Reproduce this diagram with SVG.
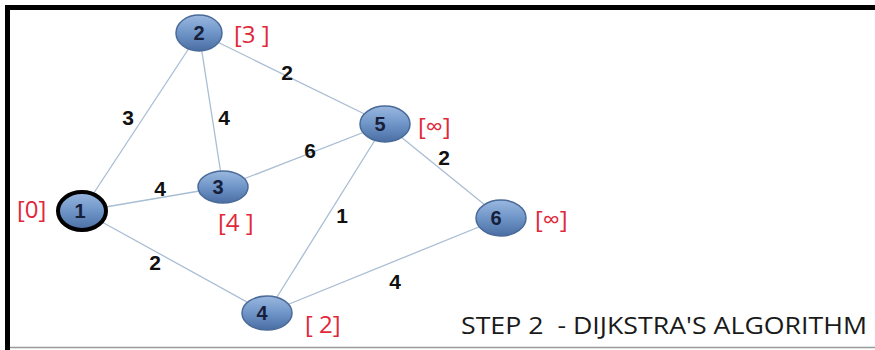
<svg xmlns="http://www.w3.org/2000/svg" width="875" height="350" viewBox="0 0 875 350">
<defs>
<linearGradient id="ng" x1="0" y1="0" x2="0" y2="1">
<stop offset="0" stop-color="#9ab8e0"/>
<stop offset="0.5" stop-color="#6f95c8"/>
<stop offset="1" stop-color="#4a6ea3"/>
</linearGradient>
<style>
.node{fill:url(#ng);stroke:#4a6a98;stroke-width:1.5}
.num{font-family:"Liberation Sans",Arial,sans-serif;font-weight:bold;font-size:20px;fill:#17203a;text-anchor:middle}
.dist{font-family:"Open Sans","Liberation Sans",sans-serif;font-size:24px;fill:#e0283a}
.w{font-family:"Liberation Sans",Arial,sans-serif;font-weight:bold;font-size:21px;fill:#111;text-anchor:middle}
.edge{stroke:#a9bdd3;stroke-width:1.3;fill:none}
.title{font-family:"Open Sans","Liberation Sans",sans-serif;font-size:24px;fill:#1a1a1a}
</style>
</defs>
<rect x="0" y="0" width="875" height="350" fill="#ffffff"/>
<line x1="5" y1="7.5" x2="875" y2="7.5" stroke="#000" stroke-width="5"/>
<line x1="7.5" y1="5" x2="7.5" y2="350" stroke="#000" stroke-width="5"/>
<line x1="10" y1="347.5" x2="875" y2="347.5" stroke="#9a9a9a" stroke-width="1.5"/>
<g id="connectors">
<line class="edge" x1="82" y1="211" x2="199" y2="33"/>
<line class="edge" x1="199" y1="33" x2="223" y2="187"/>
<line class="edge" x1="199" y1="33" x2="385" y2="124"/>
<line class="edge" x1="82" y1="211" x2="223" y2="187"/>
<line class="edge" x1="223" y1="187" x2="385" y2="124"/>
<line class="edge" x1="82" y1="211" x2="267" y2="313"/>
<line class="edge" x1="267" y1="313" x2="385" y2="124"/>
<line class="edge" x1="385" y1="124" x2="501" y2="218"/>
<line class="edge" x1="267" y1="313" x2="501" y2="218"/>
<text class="w" x="128" y="125">3</text>
<text class="w" x="224" y="125">4</text>
<text class="w" x="287" y="80">2</text>
<text class="w" x="310" y="158">6</text>
<text class="w" x="160" y="196">4</text>
<text class="w" x="444" y="165">2</text>
<text class="w" x="342" y="223">1</text>
<text class="w" x="155" y="270">2</text>
<text class="w" x="395" y="289">4</text>
</g>
<g id="node1">
<ellipse cx="82" cy="211" rx="24" ry="19" fill="url(#ng)" stroke="#000" stroke-width="4"/>
<text class="num" x="80" y="218">1</text>
<text class="dist" x="17" y="218">[0]</text>
</g>
<g id="node2">
<ellipse class="node" cx="199" cy="33" rx="23" ry="18"/>
<text class="num" x="199" y="40">2</text>
<text class="dist" x="234" y="43" xml:space="preserve">[3 ]</text>
</g>
<g id="node3">
<ellipse class="node" cx="223" cy="187" rx="25" ry="16"/>
<text class="num" x="218" y="194">3</text>
<text class="dist" x="218" y="231" xml:space="preserve">[4 ]</text>
</g>
<g id="node4">
<ellipse class="node" cx="267" cy="313" rx="25" ry="17"/>
<text class="num" x="262" y="320">4</text>
<text class="dist" x="305" y="333" xml:space="preserve">[ 2]</text>
</g>
<g id="node5">
<ellipse class="node" cx="385" cy="124" rx="25" ry="18"/>
<text class="num" x="380" y="131">5</text>
<text class="dist" x="418" y="135">[∞]</text>
</g>
<g id="node6">
<ellipse class="node" cx="501" cy="218" rx="25" ry="18"/>
<text class="num" x="496" y="225">6</text>
<text class="dist" x="535" y="228">[∞]</text>
</g>
<text class="title" x="461" y="334" textLength="406" lengthAdjust="spacingAndGlyphs" xml:space="preserve">STEP 2  - DIJKSTRA'S ALGORITHM</text>
</svg>
